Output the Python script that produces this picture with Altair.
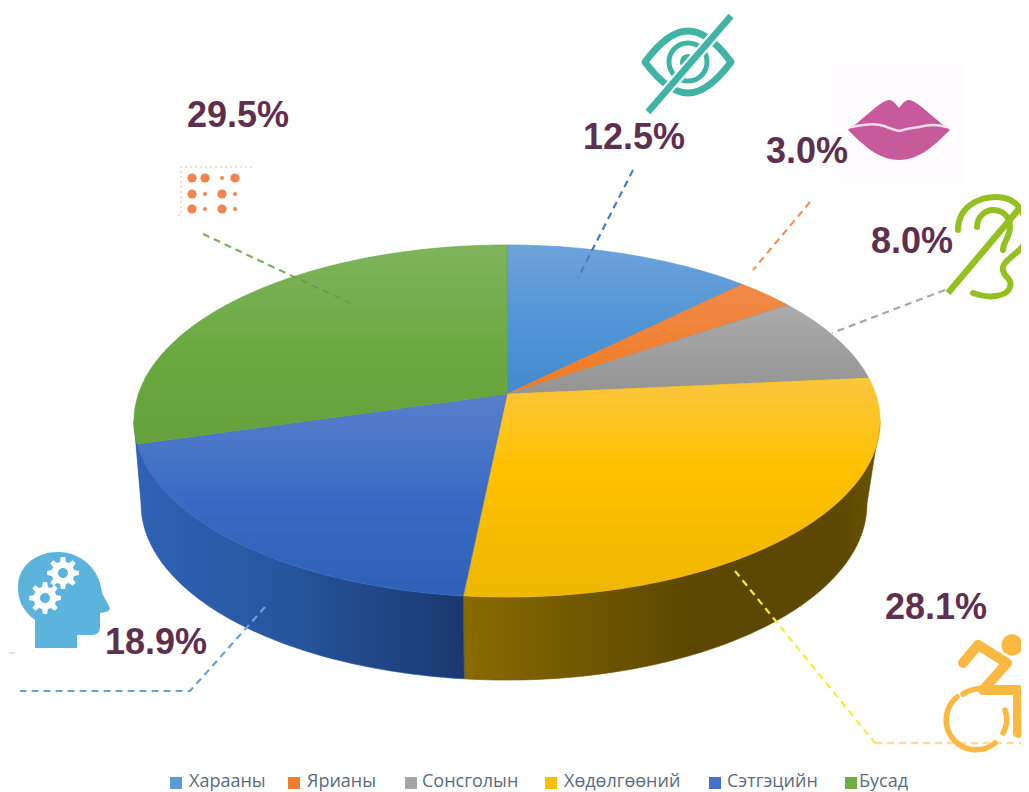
import math
import altair as alt
import pandas as pd

# ---- data ----
categories = ["Харааны", "Ярианы", "Сонсголын", "Хөдөлгөөний", "Сэтгэцийн", "Бусад"]
shares = [12.5, 3.0, 8.0, 28.1, 18.9, 29.5]
share_labels = ["12.5%", "3.0%", "8.0%", "28.1%", "18.9%", "29.5%"]
legend_colors = ["#5b9bd5", "#ed7d31", "#a5a5a5", "#ffc000", "#4472c4", "#70ad47"]

top_stops = [
    [("#6ea3da", 0), ("#4f94d6", 0.55), ("#438bcd", 1)],
    [("#f08a4b", 0), ("#f07a20", 1)],
    [("#ababab", 0), ("#949494", 1)],
    [("#fcc63f", 0), ("#ffc000", 0.42), ("#eeb700", 1)],
    [("#5a7fcb", 0), ("#3a6bc4", 0.5), ("#2d60b6", 1)],
    [("#7fb45d", 0), ("#6aa83f", 0.55), ("#66a13c", 1)],
]
wall_stops = {
    3: [("#8a6b00", 0), ("#6f5600", 0.3), ("#5c4700", 0.55), ("#5c4800", 0.9), ("#6a5300", 1)],
    4: [("#2f63b6", 0), ("#27569f", 0.45), ("#1a3870", 1)],
}

label_x = [634, 807, 912, 936, 156, 238]
label_y = [138, 152, 242, 608, 643, 116]
legend_sq_x = [176, 294, 411, 551, 715, 851]
legend_tx_x = [189, 307, 422, 564, 727, 859]

leaders = [
    ([(633, 170), (578, 278)], "#4a7cc6", 2.2),
    ([(810, 202), (753, 270)], "#ef9459", 2.2),
    ([(945, 290), (832, 333)], "#a8a8a8", 2.2),
    ([(203, 234), (290, 275)], "#7fae62", 2.2),
    ([(290, 275), (355, 305)], "#639f42", 1.5),
    ([(735, 571), (875, 743)], "#f2ee3a", 2.2),
    ([(875, 743), (1021, 743)], "#fbdc90", 2.5),
    ([(265, 607), (190, 691), (20, 691)], "#6f9fd2", 2.2),
]

braille_big = [(192, 178), (205, 178), (235, 178), (192, 194), (222, 194), (192, 209), (222, 209)]
braille_small = [(222, 178), (205, 194), (235, 194), (205, 209), (235, 209)]

# ---- layout of the pie on the page (page pixels) ----
CX, CY = 507, 394
A, B, K = 171.9, 368.6, 0.1535
WALL_SCALE_RIGHT, WALL_SCALE_LEFT, WALL_DROP = 0.965, 0.981, 83

xs = alt.Scale(domain=[8, 1021], range=[0, 1013], nice=False, zero=False)
ys = alt.Scale(domain=[8, 792], range=[0, 784], nice=False, zero=False)
X = alt.X("x:Q", scale=xs, axis=None)
Y = alt.Y("y:Q", scale=ys, axis=None)


def top_point(deg):
    t = math.radians(deg)
    u, v = math.sin(t), math.cos(t)
    w = 1 + K * v
    return CX + B * u / w, CY - A * v / w


def low_point(deg):
    x, y = top_point(deg)
    scale = WALL_SCALE_RIGHT if x >= CX else WALL_SCALE_LEFT
    return CX + (x - CX) * scale, y + WALL_DROP


def arc(f, a, b):
    n = max(2, int(abs(b - a)) + 1)
    return [f(a + (b - a) * i / n) for i in range(n + 1)]


def grad(stops, horizontal=False):
    return alt.LinearGradient(
        gradient="linear",
        x1=0, y1=0,
        x2=1 if horizontal else 0,
        y2=0 if horizontal else 1,
        stops=[alt.GradientStop(color=c, offset=o) for c, o in stops],
    )


def polygon(points, fill, edge):
    df = pd.DataFrame([{"x": p[0], "y": p[1], "i": i} for i, p in enumerate(points)])
    return alt.Chart(df).mark_line(fill=fill, stroke=edge, strokeWidth=0.6).encode(X, Y, order="i:Q")


def polyline(points, color, width=2, dash=None, cap="butt"):
    df = pd.DataFrame([{"x": p[0], "y": p[1], "i": i} for i, p in enumerate(points)])
    kw = {"strokeDash": dash} if dash else {}
    return alt.Chart(df).mark_line(color=color, strokeWidth=width, strokeCap=cap, **kw).encode(X, Y, order="i:Q")


def icon(x, y, path, fill=None, stroke=None, width=0, cap="round"):
    # size 4 makes one unit of the symbol path one pixel
    kw = dict(shape=path, size=4, opacity=1, strokeCap=cap, strokeJoin="round")
    if fill:
        kw.update(filled=True, fill=fill, strokeWidth=0)
    else:
        kw.update(filled=False, stroke=stroke, strokeWidth=width)
    return alt.Chart(pd.DataFrame({"x": [x], "y": [y]})).mark_point(**kw).encode(X, Y)


def dots(points, color, size):
    df = pd.DataFrame(points, columns=["x", "y"])
    return alt.Chart(df).mark_point(shape="circle", filled=True, color=color, size=size, opacity=1).encode(X, Y)


layers = []

# side wall
edges = [0]
for s in shares:
    edges.append(edges[-1] + s * 3.6)
right_deg = math.degrees(math.acos(-K))
left_deg = 360 - right_deg
wall_span = {3: (right_deg, edges[4]), 4: (edges[4], left_deg)}
for idx, (a, b) in wall_span.items():
    pts = arc(top_point, a, b) + arc(low_point, b, a)
    layers.append(polygon(pts + pts[:1], grad(wall_stops[idx], True), wall_stops[idx][1][0]))

# top face
for idx in range(len(shares)):
    pts = [(CX, CY)] + arc(top_point, edges[idx], edges[idx + 1]) + [(CX, CY)]
    layers.append(polygon(pts, grad(top_stops[idx]), top_stops[idx][1][0]))

# lips backdrop
layers.append(
    alt.Chart(pd.DataFrame({"x": [833], "x2": [962], "y": [65], "y2": [183]}))
    .mark_rect(color="#fefcfe")
    .encode(X, alt.X2("x2:Q"), Y, alt.Y2("y2:Q"))
)

# leader lines
for pts, col, w in leaders:
    layers.append(polyline(pts, col, w, [7, 5]))
layers.append(polyline([(9, 653), (15, 653)], "#cfe3f0", 2))

# labels
layers.append(
    alt.Chart(pd.DataFrame({"x": label_x, "y": label_y, "t": share_labels}))
    .mark_text(font="Liberation Sans", fontWeight="bold", fontSize=36, color="#5f2f4f", align="center", baseline="middle")
    .encode(X, Y, text="t:N")
)

# eye icon
EYE = "#3fb4a4"
layers.append(icon(688, 62, "M-43,0 Q-20,-31 0,-31 Q20,-31 43,0 Q20,31 0,31 Q-20,31 -43,0Z", stroke=EYE, width=7))
layers.append(icon(688, 62, "M19,0 A19,19 0 1,1 -19,0 A19,19 0 1,1 19,0Z", stroke=EYE, width=5))
layers.append(icon(688, 62, "M8,0 A8,8 0 1,1 -8,0 A8,8 0 1,1 8,0Z", fill=EYE))
layers.append(polyline([(648, 112), (731, 16)], "#ffffff", 11))
layers.append(polyline([(648, 112), (731, 16)], EYE, 6.5))

# lips icon
layers.append(icon(899, 130, "M-51,0 C-36,-10 -18,-30 -10,-30 C-5,-30 -2,-24 0,-22 C2,-24 5,-30 10,-30 C18,-30 36,-10 51,0 C36,15 20,30 0,30 C-20,30 -36,15 -51,0Z", fill="#c65a9b"))
layers.append(icon(899, 130, "M-47,-3 Q-25,-8 -15,-4 Q-5,0 0,1 Q10,-2 20,-3 Q35,-7 47,-3", stroke="#f5dcea", width=2.5))

# ear icon
EAR = "#94c120"
layers.append(icon(993, 247, "M-35,-17 C-35,-40 -15,-50 4,-50 C25,-50 34,-32 34,-14 C34,5 12,10 10,20 C8,30 20,30 17,40 C14,50 -5,52 -20,46", stroke=EAR, width=6))
layers.append(icon(993, 247, "M-16,-20 C-16,-30 -8,-37 0,-37 C10,-37 17,-30 17,-20 C17,-10 10,-5 10,3", stroke=EAR, width=6))
layers.append(polyline([(948, 293), (1021, 206.5)], EAR, 6.5))

# wheelchair icon
CHAIR = "#fbb941"
layers.append(icon(985, 690, "M-22,-27 L-7,-45 L22,-27 L-2,0 L33,0 L33,43", stroke=CHAIR, width=10))
layers.append(icon(985, 690, "M-28,7 A27,27 0 0,0 10,53", stroke=CHAIR, width=5.5))
layers.append(icon(985, 690, "M20,20 A27,27 0 0,1 18,43", stroke=CHAIR, width=5.5))
layers.append(icon(985, 690, "M-22,4 Q-10,-3 2,-1", stroke=CHAIR, width=5.5))
layers.append(alt.Chart(pd.DataFrame({"x": [1012], "y": [645]})).mark_point(shape="circle", filled=True, color=CHAIR, size=452, opacity=1).encode(X, Y))

# head icon
HEAD = "#5cb3dc"
layers.append(icon(62, 595, "M-27,53 L-27,25 C-40,15 -44,5 -44,-8 C-44,-30 -25,-43 -4,-43 C20,-43 38,-25 40,-2 L48,13 Q48,17 38,18 L38,32 Q38,40 30,40 L15,40 L15,53Z", fill=HEAD))


def gear_path(outer=16, inner=11.5, teeth=8):
    pts = []
    for i in range(teeth):
        base = 2 * math.pi * i / teeth
        step = 2 * math.pi / teeth
        for off, r in [(-0.32, inner), (-0.17, outer), (0.17, outer), (0.32, inner)]:
            a = base + off * step
            pts.append(f"{r * math.cos(a):.1f},{r * math.sin(a):.1f}")
    return "M" + " L".join(pts) + "Z"


for gx, gy in [(63, 573), (45, 598)]:
    layers.append(icon(gx, gy, gear_path(), fill="#ffffff"))
    layers.append(icon(gx, gy, "M5,0 A5,5 0 1,1 -5,0 A5,5 0 1,1 5,0Z", fill=HEAD))

# braille icon
layers.append(polyline([(252, 167), (181, 167), (181, 215), (176, 215)], "#fbdccd", 2, [2, 3]))
layers.append(dots(braille_big, "#f0854f", 85))
layers.append(dots(braille_small, "#f0854f", 16))

# legend row
layers.append(
    alt.Chart(pd.DataFrame({"x": legend_sq_x, "y": [783] * 6, "c": legend_colors}))
    .mark_square(size=144, opacity=1)
    .encode(X, Y, color=alt.Color("c:N", scale=None))
)
layers.append(
    alt.Chart(pd.DataFrame({"x": legend_tx_x, "y": [782] * 6, "t": categories}))
    .mark_text(font="Open Sans", fontSize=18, color="#5a6b80", align="left", baseline="middle")
    .encode(X, Y, text="t:N")
)

chart = (
    alt.layer(*layers)
    .properties(width=1013, height=784, padding=0, autosize=alt.AutoSizeParams(type="none"))
    .configure_view(stroke=None)
)
chart.save("out.html", embed_options={"renderer": "svg", "actions": False})
